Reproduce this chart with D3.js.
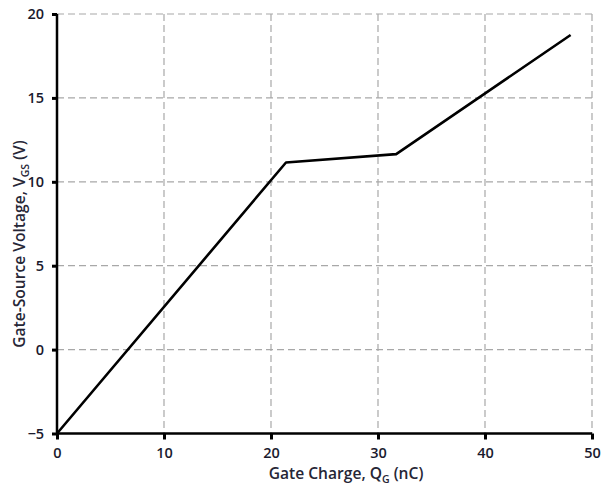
<!DOCTYPE html>
<html>
<head>
<meta charset="utf-8">
<script src="https://cdn.jsdelivr.net/npm/d3@7"></script>
<style>
  html, body { margin: 0; padding: 0; background: #fff; }
  svg { display: block; }
  .tick text { font-family: "Open Sans", "Noto Sans", sans-serif; font-weight: 600; }
</style>
</head>
<body>
<svg id="chart" width="603" height="488"></svg>
<script>
// Gate charge curve: Q_G (nC) vs V_GS (V)
const gateCharge = [0, 21.4, 31.7, 48.0];
const gateVoltage = [-5, 11.15, 11.65, 18.75];
const xTicks = [0, 10, 20, 30, 40, 50];
const yTicks = [-5, 0, 5, 10, 15, 20];

const svg = d3.select("#chart");
const margin = { left: 57, right: 10, top: 14, bottom: 54 };

const x = d3.scaleLinear().domain([0, 50]).range([margin.left, 592]);
const y = d3.scaleLinear().domain([-5, 20]).range([433.5, margin.top]);

// dashed grid
const grid = svg.append("g");
grid.selectAll(".vg").data(xTicks.filter(d => d > 0)).join("line")
  .attr("x1", d => x(d)).attr("x2", d => x(d))
  .attr("y1", y(20)).attr("y2", y(-5))
  .attr("stroke", "#a8a8a8").attr("stroke-width", 1.2).attr("stroke-dasharray", "7,4");
grid.selectAll(".hg").data(yTicks.filter(d => d > -5)).join("line")
  .attr("x1", x(0)).attr("x2", x(50))
  .attr("y1", d => y(d)).attr("y2", d => y(d))
  .attr("stroke", "#a8a8a8").attr("stroke-width", 1.2).attr("stroke-dasharray", "7,4");

// axes
const xAxis = d3.axisBottom(x).tickValues(xTicks).tickSize(6).tickPadding(8).tickFormat(d3.format("d"));
const yAxis = d3.axisLeft(y).tickValues(yTicks).tickSize(5).tickPadding(8).tickFormat(d3.format("d"));

const gx = svg.append("g").attr("transform", `translate(0,${y(-5)})`).call(xAxis);
const gy = svg.append("g").attr("transform", `translate(${x(0)},0)`).call(yAxis);

[gx, gy].forEach(g => {
  g.select(".domain").attr("stroke", "#000").attr("stroke-width", 2.5);
  g.selectAll(".tick line").attr("stroke", "#000").attr("stroke-width", 3);
  g.selectAll(".tick text").attr("fill", "#1a1a2e").attr("font-size", 14.5);
});
gx.select(".domain").attr("d", `M${x(0)},0H${x(50)}`);
gy.select(".domain").attr("d", `M0,${y(20)}V${y(-5)}`);

// curve
svg.append("path")
  .datum(gateCharge.map((q, i) => [q, gateVoltage[i]]))
  .attr("fill", "none").attr("stroke", "#000").attr("stroke-width", 2.6)
  .attr("stroke-linejoin", "round")
  .attr("d", d3.line().x(d => x(d[0])).y(d => y(d[1])));

// axis titles
const titleFont = "'Open Sans', 'Noto Sans', sans-serif";
const xt = svg.append("text")
  .attr("x", 346).attr("y", 479).attr("text-anchor", "middle")
  .attr("font-family", titleFont).attr("font-size", 15.6).attr("font-weight", 600)
  .attr("fill", "#262636");
xt.append("tspan").text("Gate Charge, Q");
xt.append("tspan").attr("font-size", 10.5).attr("dy", 4).text("G");
xt.append("tspan").attr("dy", -4).text(" (nC)");

const yt = svg.append("text")
  .attr("transform", `translate(25,244) rotate(-90)`).attr("text-anchor", "middle")
  .attr("font-family", titleFont).attr("font-size", 15.6).attr("font-weight", 600)
  .attr("fill", "#262636");
yt.append("tspan").text("Gate-Source Voltage, V");
yt.append("tspan").attr("font-size", 10.5).attr("dy", 4).text("GS");
yt.append("tspan").attr("dy", -4).text(" (V)");
</script>
</body>
</html>
